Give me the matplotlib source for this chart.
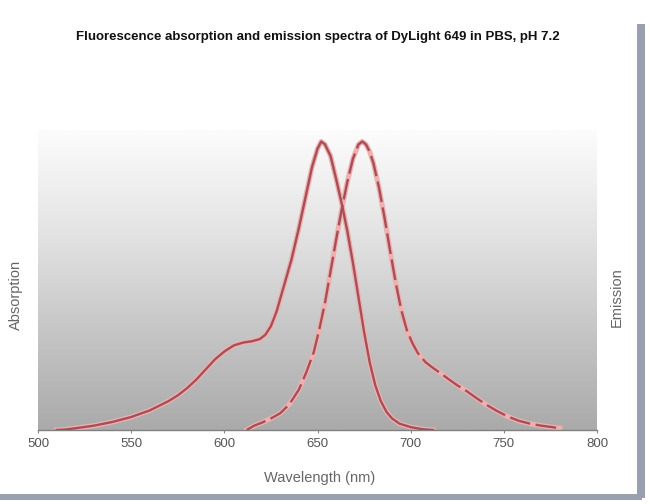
import numpy as np
import matplotlib
matplotlib.use("Agg")
import matplotlib.pyplot as plt
from matplotlib.patches import Rectangle
from matplotlib.colors import LinearSegmentedColormap

plt.rcParams['font.family'] = ['Liberation Sans', 'DejaVu Sans']
plt.rcParams['lines.scale_dashes'] = False

title = "Fluorescence absorption and emission spectra of DyLight 649 in PBS, pH 7.2"
xlabel = "Wavelength (nm)"
left_label = "Absorption"
right_label = "Emission"
xticks = [500, 550, 600, 650, 700, 750, 800]

abs_wl = [510, 515, 520, 530, 540, 550, 560, 570, 575, 580, 585, 590, 595, 600, 605, 610,
          615, 619, 622, 625, 628, 632, 636, 640, 644, 647, 650, 652, 654, 657, 660, 663,
          666, 669, 672, 675, 678, 681, 684, 687, 690, 694, 700, 706, 712]
abs_val = [0.0, 0.002, 0.006, 0.015, 0.028, 0.045, 0.068, 0.10, 0.12, 0.145, 0.175, 0.21,
           0.245, 0.272, 0.293, 0.303, 0.308, 0.315, 0.33, 0.36, 0.41, 0.50, 0.59, 0.70,
           0.82, 0.91, 0.975, 1.0, 0.99, 0.95, 0.87, 0.785, 0.69, 0.58, 0.46, 0.34, 0.235,
           0.155, 0.10, 0.063, 0.04, 0.022, 0.01, 0.003, 0.0]

em_wl = [612, 616, 620, 625, 630, 635, 640, 644, 648, 651, 654, 657, 660, 663, 666, 669,
         672, 674, 676, 678, 680, 683, 686, 689, 692, 695, 698, 701, 704, 708, 712, 716,
         720, 725, 730, 735, 740, 746, 752, 758, 764, 770, 776, 780]
em_val = [0.0, 0.015, 0.025, 0.04, 0.058, 0.09, 0.14, 0.20, 0.27, 0.35, 0.44, 0.55, 0.66,
          0.765, 0.86, 0.94, 0.99, 1.0, 0.99, 0.965, 0.925, 0.84, 0.735, 0.62, 0.51, 0.415,
          0.345, 0.30, 0.265, 0.235, 0.215, 0.197, 0.178, 0.155, 0.135, 0.112, 0.09, 0.067,
          0.047, 0.032, 0.022, 0.015, 0.01, 0.006]

W, H = 650, 504
fig = plt.figure(figsize=(6.5, 5.04), dpi=100)
fig.patch.set_facecolor('white')

# drop-shadow frame
fig.add_artist(Rectangle((637 / W, 1 - 498 / H), 8 / W, (498 - 24) / H,
                         transform=fig.transFigure, facecolor='#9aa0ad', edgecolor='none'))
fig.add_artist(Rectangle((0, 1 - 500 / H), 642 / W, 6 / H,
                         transform=fig.transFigure, facecolor='#9aa0ad', edgecolor='none'))

ax = fig.add_axes([38 / W, 1 - 430 / H, (597 - 38) / W, 300 / H])
ax.set_xlim(500, 800)
ax.set_ylim(0, 1.04)

cmap = LinearSegmentedColormap.from_list('g', ['#aaaaaa', '#c6c6c6', '#e4e4e4', '#fcfcfc'])
grad = np.linspace(0, 1, 256).reshape(-1, 1)
ax.imshow(grad, cmap=cmap, aspect='auto', extent=[0, 1, 0, 1],
          transform=ax.transAxes, origin='lower', zorder=0)

halo = '#eeb0b0'
core = '#a84e56'
ax.plot(abs_wl, abs_val, color=halo, lw=3.6, zorder=2, solid_joinstyle='round')
ax.plot(abs_wl, abs_val, color=core, lw=1.7, zorder=3, solid_joinstyle='round')
ax.plot(em_wl, em_val, color=halo, lw=3.6, zorder=2, solid_joinstyle='round')
ax.plot(em_wl, em_val, color=core, lw=1.7, zorder=3, dashes=(15, 4))

for s in ['top', 'left', 'right']:
    ax.spines[s].set_visible(False)
ax.spines['bottom'].set_color('#808080')
ax.spines['bottom'].set_linewidth(1.0)
ax.set_yticks([])
ax.set_xticks(xticks)
ax.set_xticklabels([str(t) for t in xticks])
ax.tick_params(axis='x', length=2, color='#888888', labelsize=9.5, labelcolor='#555555', pad=4)

fig.text(318 / W, 1 - 37 / H, title, ha='center', va='center', fontsize=9.5,
         fontweight='bold', color='#111111')
fig.text(320 / W, 1 - 478 / H, xlabel, ha='center', va='center', fontsize=10.5, color='#666666')
fig.text(16 / W, 1 - 295 / H, left_label, ha='center', va='center', rotation=90,
         fontsize=10.5, color='#666666')
fig.text(617 / W, 1 - 297 / H, right_label, ha='center', va='center', rotation=90,
         fontsize=10.5, color='#666666')

fig.savefig('out.png', dpi=100, facecolor='white')
